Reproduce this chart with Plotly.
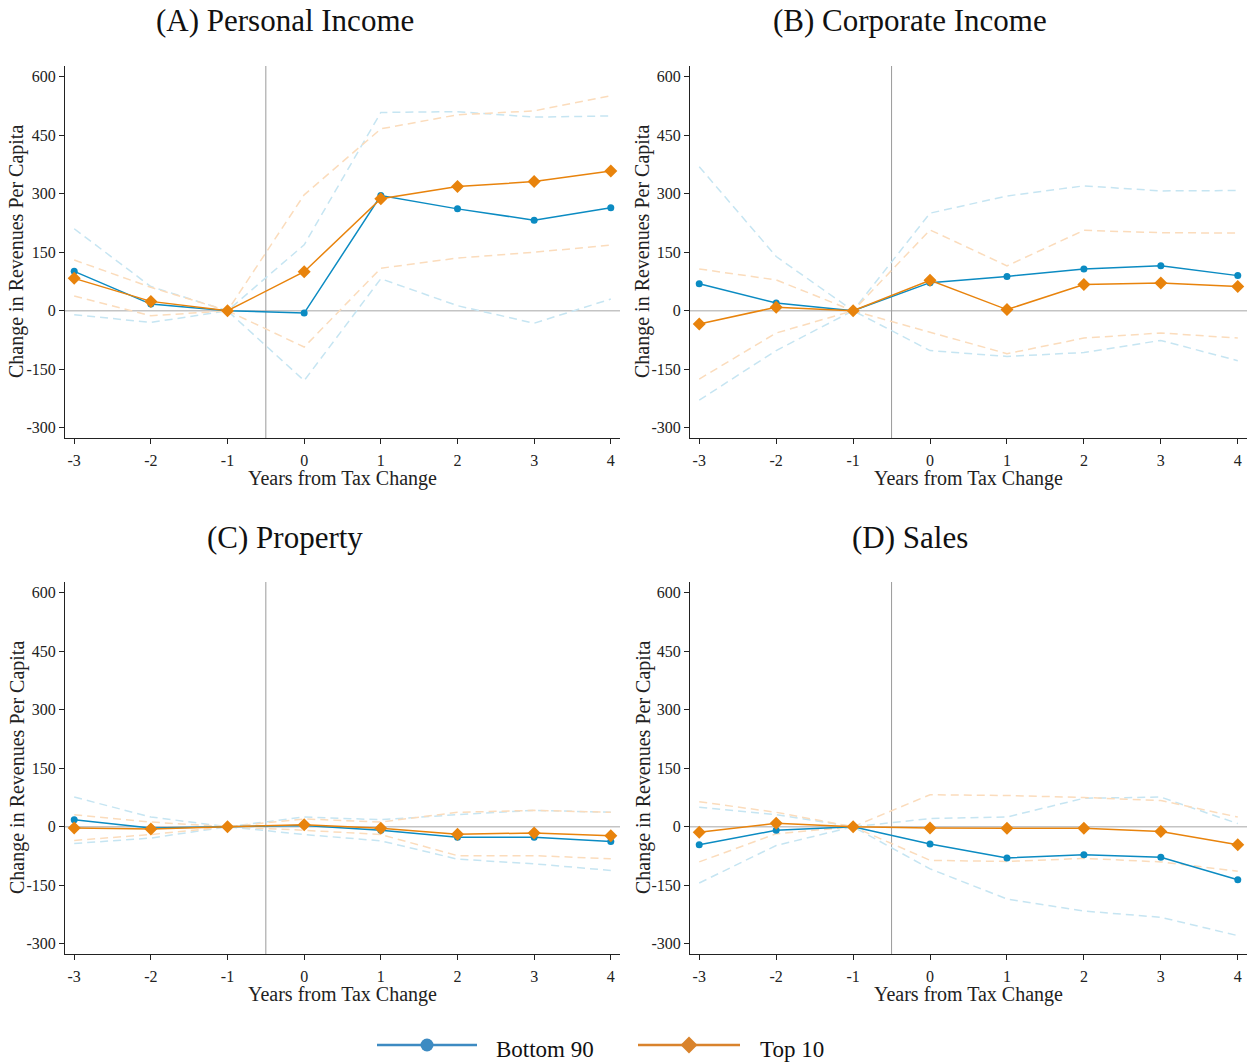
import plotly.graph_objects as go

years = [-3, -2, -1, 0, 1, 2, 3, 4]
panel_titles = ["(A) Personal Income", "(B) Corporate Income", "(C) Property", "(D) Sales"]
series_names = ["Bottom 90", "Top 10"]
y_ticks = [-300, -150, 0, 150, 300, 450, 600]

# (A) Personal Income
a_b90 = [101, 17, 0, -6, 295, 261, 232, 264]
a_b90_hi = [210, 62, 0, 169, 508, 510, 496, 499]
a_b90_lo = [-10, -30, 0, -179, 82, 13, -32, 30]
a_t10 = [83, 24, 0, 100, 287, 318, 331, 358]
a_t10_hi = [130, 60, 0, 297, 466, 502, 512, 551]
a_t10_lo = [38, -13, 0, -93, 109, 135, 150, 168]

# (B) Corporate Income
b_b90 = [69, 20, 0, 72, 88, 107, 115, 90]
b_b90_hi = [369, 139, 0, 250, 294, 320, 307, 308]
b_b90_lo = [-229, -102, 0, -102, -117, -107, -76, -128]
b_t10 = [-34, 9, 0, 78, 3, 67, 71, 62]
b_t10_hi = [107, 79, 0, 207, 115, 206, 200, 199]
b_t10_lo = [-175, -57, 0, -55, -110, -70, -57, -70]

# (C) Property
c_b90 = [18, -3, 0, 3, -9, -27, -27, -38]
c_b90_hi = [76, 25, 0, 25, 18, 31, 42, 37]
c_b90_lo = [-43, -29, 0, -20, -36, -83, -95, -112]
c_t10 = [-3, -6, 0, 5, -4, -19, -16, -23]
c_t10_hi = [31, 12, 0, 20, 12, 37, 42, 37]
c_t10_lo = [-35, -20, 0, -9, -20, -74, -74, -82]

# (D) Sales
d_b90 = [-46, -9, 0, -44, -80, -72, -78, -136]
d_b90_hi = [50, 31, 0, 21, 25, 73, 76, 8]
d_b90_lo = [-144, -48, 0, -108, -185, -216, -232, -279]
d_t10 = [-14, 9, 0, -3, -4, -4, -12, -46]
d_t10_hi = [64, 37, 0, 82, 80, 75, 67, 25]
d_t10_lo = [-90, -18, 0, -86, -89, -81, -90, -114]

panels = [
    (a_b90, a_b90_hi, a_b90_lo, a_t10, a_t10_hi, a_t10_lo),
    (b_b90, b_b90_hi, b_b90_lo, b_t10, b_t10_hi, b_t10_lo),
    (c_b90, c_b90_hi, c_b90_lo, c_t10, c_t10_hi, c_t10_lo),
    (d_b90, d_b90_hi, d_b90_lo, d_t10, d_t10_hi, d_t10_lo),
]

W, H = 1252, 1064
BLUE = "#0b8bc2"
ORANGE = "#e8830c"
BLUE_CI = "#c6e5f2"
ORANGE_CI = "#fbdcbc"
LEG_BLUE = "#3d8bc2"
LEG_ORANGE = "#d9832c"
FONT = "Liberation Serif"

# pixel geometry of panels (left, right, top, bottom)
px_x = [(65, 620), (690, 1247)]
px_y = [(66, 438), (582, 954)]

fig = go.Figure()
layout = dict(width=W, height=H, margin=dict(l=0, r=0, t=0, b=0),
              paper_bgcolor="white", plot_bgcolor="white", showlegend=False,
              font=dict(family=FONT, color="#222"))
annotations = []
shapes = []

for i, data in enumerate(panels):
    r, c = divmod(i, 2)
    n = i + 1
    xa = "x" if n == 1 else f"x{n}"
    ya = "y" if n == 1 else f"y{n}"
    xl, xr = px_x[c]
    yt, yb = px_y[r]
    b90, b90_hi, b90_lo, t10, t10_hi, t10_lo = data

    for ci, col in [(b90_hi, BLUE_CI), (b90_lo, BLUE_CI), (t10_hi, ORANGE_CI), (t10_lo, ORANGE_CI)]:
        fig.add_trace(go.Scatter(x=years, y=ci, mode="lines", xaxis=xa, yaxis=ya,
                                 line=dict(color=col, width=1.5, dash="8px,5px"),
                                 hoverinfo="skip", showlegend=False))
    fig.add_trace(go.Scatter(x=years, y=b90, mode="lines+markers", name=series_names[0],
                             xaxis=xa, yaxis=ya, line=dict(color=BLUE, width=1.5),
                             marker=dict(symbol="circle", size=7, color=BLUE), showlegend=False))
    fig.add_trace(go.Scatter(x=years, y=t10, mode="lines+markers", name=series_names[1],
                             xaxis=xa, yaxis=ya, line=dict(color=ORANGE, width=1.5),
                             marker=dict(symbol="diamond", size=10, color=ORANGE), showlegend=False))

    axis_common = dict(showgrid=False, zeroline=False, showline=True, linecolor="#222",
                       linewidth=1, ticks="outside", ticklen=5, tickcolor="#222",
                       tickfont=dict(family=FONT, size=16, color="#222"))
    layout["xaxis" if n == 1 else f"xaxis{n}"] = dict(
        domain=[xl / W, xr / W], anchor=ya, range=[-3.12, 4.12],
        tickmode="array", tickvals=years, ticktext=[str(v) for v in years],
        ticklabelstandoff=3, **axis_common)
    layout["yaxis" if n == 1 else f"yaxis{n}"] = dict(
        domain=[(H - yb) / H, (H - yt) / H], anchor=xa, range=[-326, 627],
        tickmode="array", tickvals=y_ticks, ticktext=[str(v) for v in y_ticks],
        **axis_common)

    # reference lines
    shapes.append(dict(type="line", xref=f"{xa} domain", yref=ya, x0=0, x1=1, y0=0, y1=0,
                       line=dict(color="#c4c4c4", width=1.5), layer="below"))
    shapes.append(dict(type="line", xref=xa, yref=f"{ya} domain", x0=-0.5, x1=-0.5, y0=0, y1=1,
                       line=dict(color="#9a9a9a", width=1), layer="below"))

    # panel title
    title_cx = [285, 910][c]
    title_cy = [20, 537][r]
    annotations.append(dict(text=panel_titles[i], xref="paper", yref="paper",
                            x=title_cx / W, y=1 - title_cy / H, xanchor="center", yanchor="middle",
                            showarrow=False, font=dict(family=FONT, size=31, color="#111")))
    # y-axis title
    annotations.append(dict(text="Change in Revenues Per Capita", xref="paper", yref="paper",
                            x=([17, 643][c]) / W, y=1 - ((yt + yb) / 2) / H, textangle=-90,
                            xanchor="center", yanchor="middle", showarrow=False,
                            font=dict(family=FONT, size=20, color="#222")))
    # x-axis title
    annotations.append(dict(text="Years from Tax Change", xref="paper", yref="paper",
                            x=((xl + xr) / 2) / W, y=1 - (yb + 40) / H,
                            xanchor="center", yanchor="middle", showarrow=False,
                            font=dict(family=FONT, size=20, color="#222")))

# manual legend at the bottom
leg_y = 1 - 1045 / H
leg_items = [(series_names[0], LEG_BLUE, 377, 477, 494, "circle"),
             (series_names[1], LEG_ORANGE, 638, 740, 758, "diamond")]
for name, col, x0, x1, tx, sym in leg_items:
    shapes.append(dict(type="line", xref="paper", yref="paper", x0=x0 / W, x1=x1 / W,
                       y0=leg_y, y1=leg_y, line=dict(color=col, width=2.5)))
    cx = (x0 + x1) / 2
    if sym == "circle":
        shapes.append(dict(type="circle", xref="paper", yref="paper",
                           x0=(cx - 6.5) / W, x1=(cx + 6.5) / W,
                           y0=leg_y - 6.5 / H, y1=leg_y + 6.5 / H,
                           fillcolor=col, line=dict(color=col, width=0)))
    else:
        d = 8.5
        path = (f"M {(cx - d) / W},{leg_y} L {cx / W},{leg_y + d / H} "
                f"L {(cx + d) / W},{leg_y} L {cx / W},{leg_y - d / H} Z")
        shapes.append(dict(type="path", xref="paper", yref="paper", path=path,
                           fillcolor=col, line=dict(color=col, width=0)))
    annotations.append(dict(text=name, xref="paper", yref="paper", x=tx / W, y=leg_y - 4 / H,
                            xanchor="left", yanchor="middle", showarrow=False,
                            font=dict(family=FONT, size=23, color="#111")))

layout["annotations"] = annotations
layout["shapes"] = shapes
fig.update_layout(**layout)
fig.write_html("out.html")
